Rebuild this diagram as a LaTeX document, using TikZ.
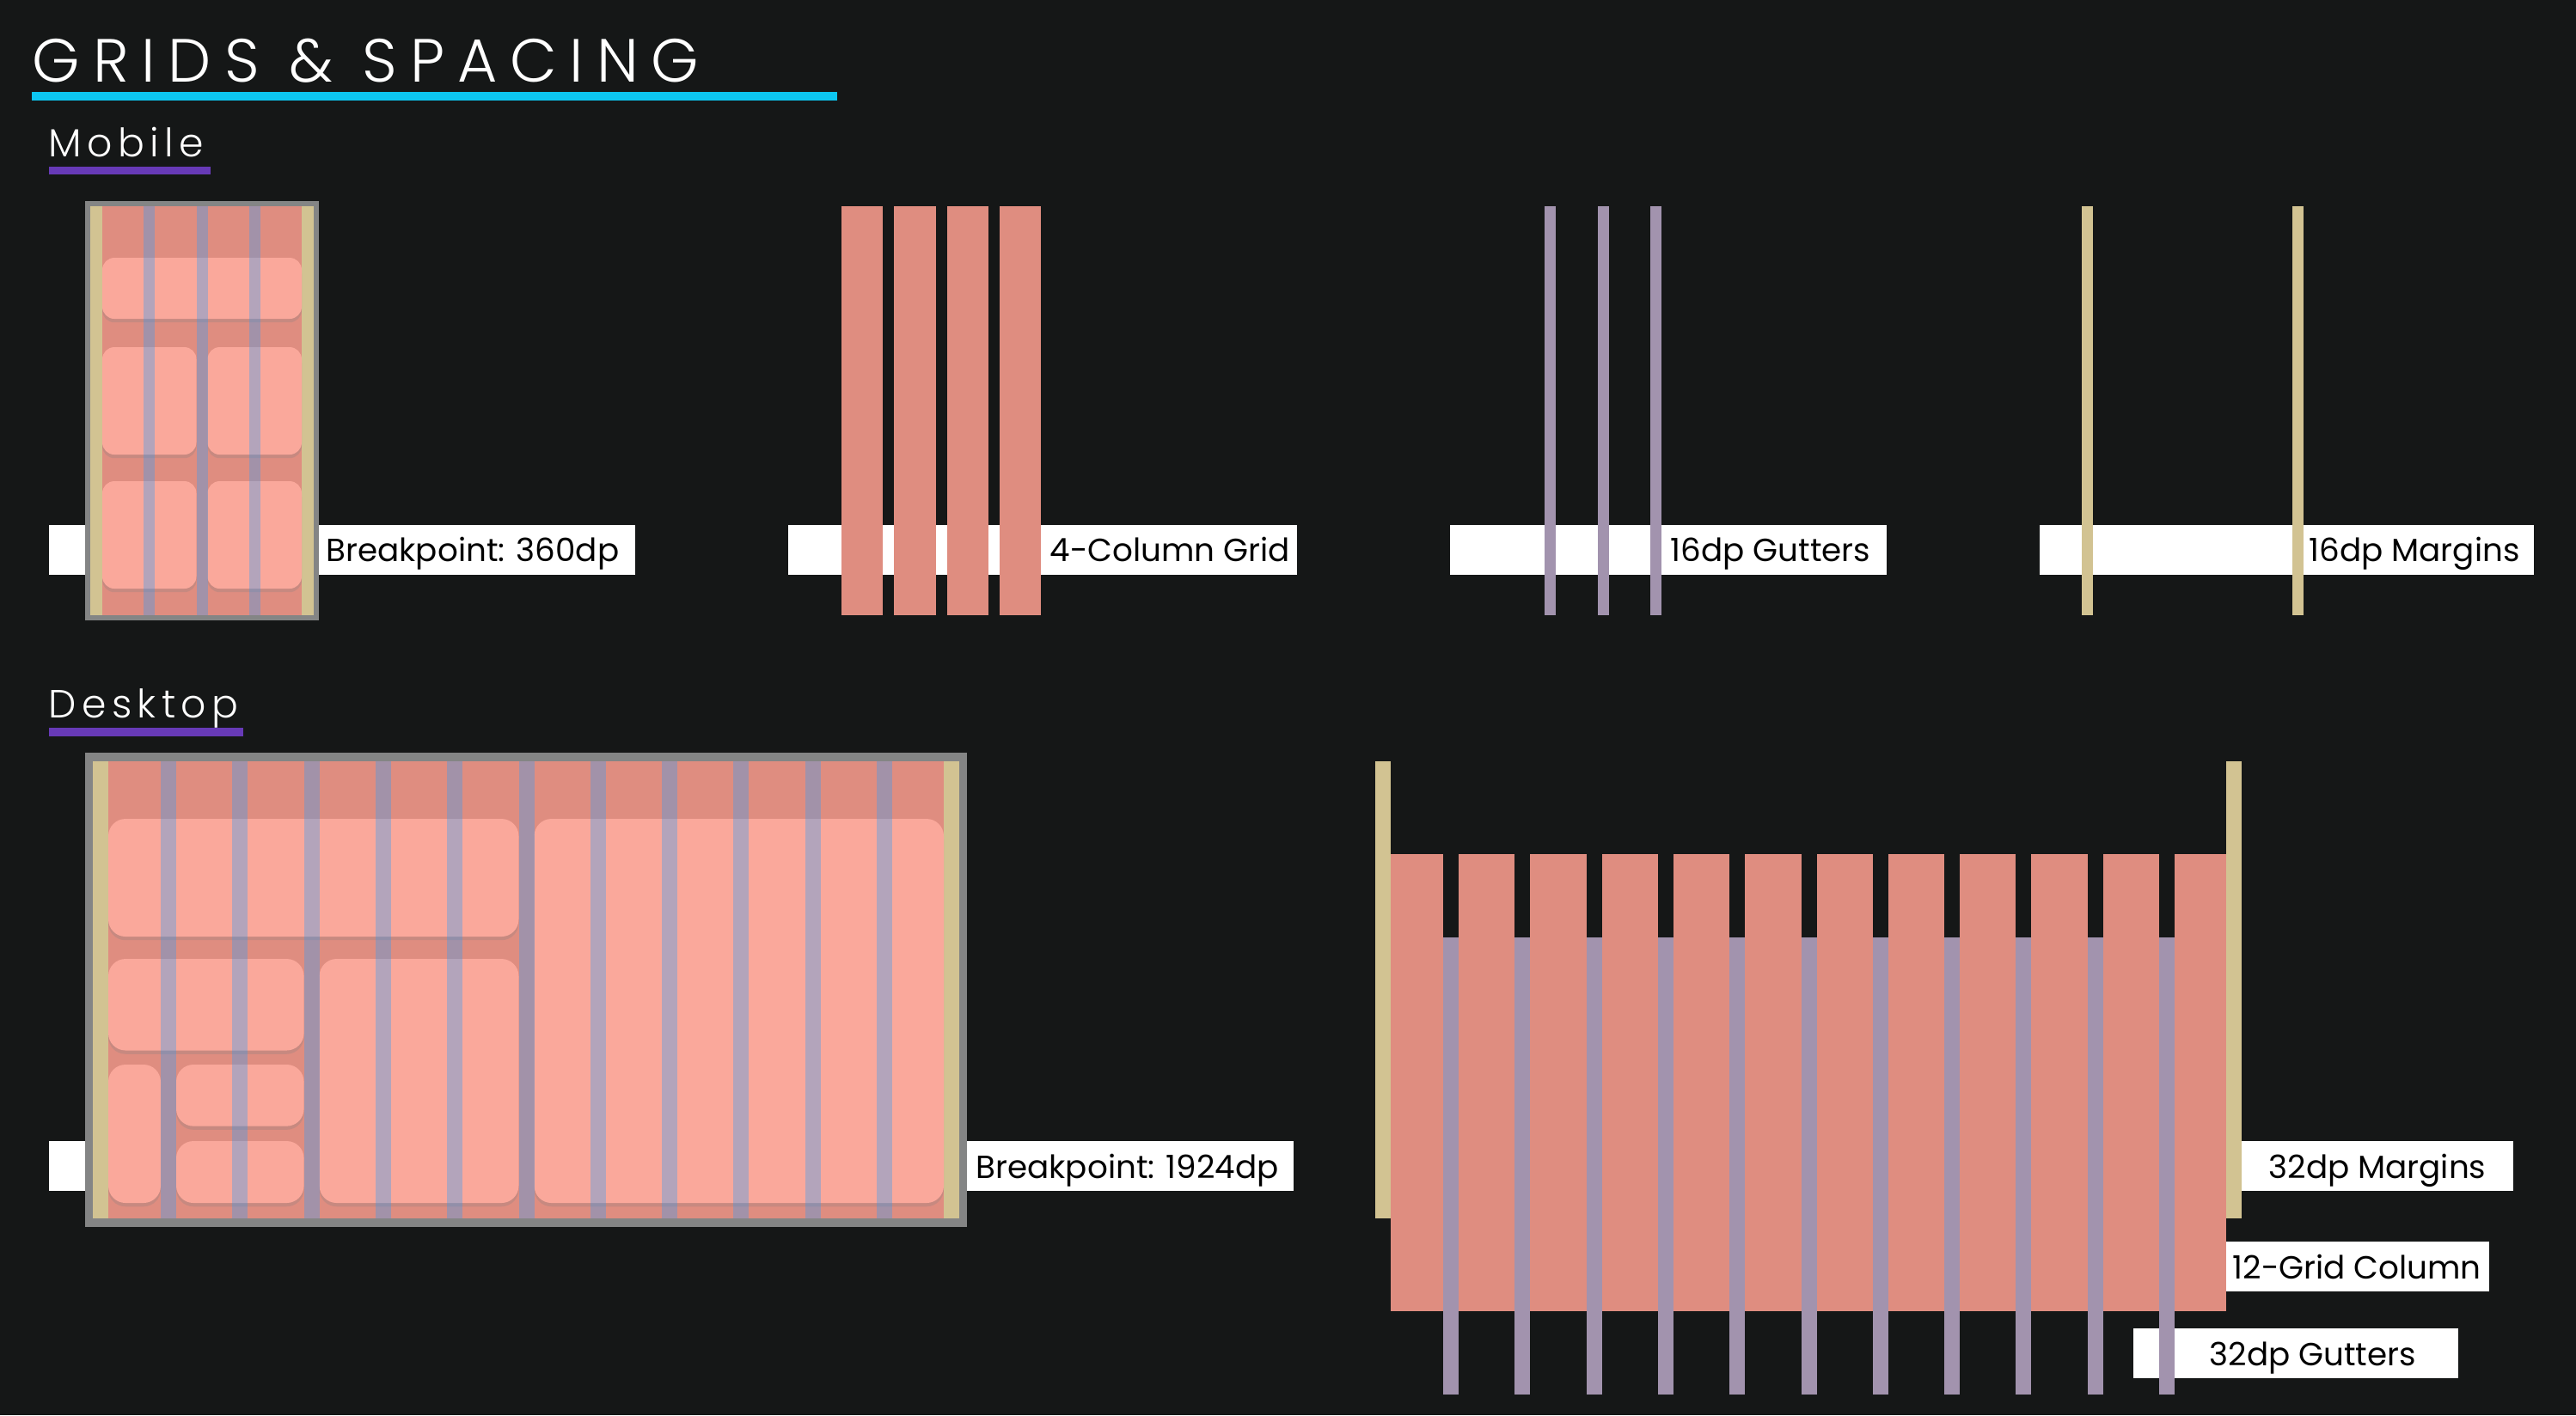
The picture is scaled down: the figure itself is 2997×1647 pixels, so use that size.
\documentclass[tikz,border=0pt]{standalone}
\usepackage{fontspec}
\setmainfont{Poppins}
\newfontfamily\titlefont[LetterSpace=21]{Poppins Light}
\newfontfamily\headfont[LetterSpace=14]{Poppins Light}
\usetikzlibrary{shadows}
\definecolor{bgdark}{HTML}{151717}
\definecolor{colred}{HTML}{DF8D80}
\definecolor{cardpink}{HTML}{FAA89B}
\definecolor{gutterlilac}{HTML}{A293AE}
\definecolor{gutterblue}{HTML}{319DF8}
\definecolor{marginsand}{HTML}{D2C392}
\definecolor{framegray}{HTML}{848585}
\definecolor{titlecyan}{HTML}{0CC6F1}
\definecolor{headpurple}{HTML}{673AB7}
\tikzset{
        gridcol/.style={fill=colred},
        gridgutter/.style={fill=gutterlilac},
        overgutter/.style={fill=gutterblue, fill opacity=0.35},
        gridmargin/.style={fill=marginsand},
        framebox/.style={fill=framegray},
        card/.style={fill=cardpink, rounded corners=#1, drop shadow={shadow xshift=0pt, shadow yshift=-1.2pt, opacity=0.25}},
        card/.default=4pt,
        tagbar/.style={fill=white},
        tagtext/.style={inner sep=0pt, anchor=base west, text=black, font=\fontsize{10.6}{13}\selectfont},
        heading/.style={inner sep=0pt, anchor=base west, text=white, font=\headfont\fontsize{13}{15}\selectfont},
        bigtitle/.style={inner sep=0pt, anchor=base west, text=white, font=\titlefont\fontsize{20.2}{24}\selectfont}
          }
\begin{document}
\begin{tikzpicture}[x=0.01cm, y=-0.01cm]
            \fill[bgdark] (0,0) rectangle (2997,1647);
            \node[bigtitle] (title) at (37,95) {GRIDS \& SPACING};
            \fill[titlecyan] (37,107) rectangle (974,117);
            \node[heading] (mobile) at (56,182) {Mobile};
            \fill[headpurple] (57,194) rectangle (245,203);
            \node[heading] (desktop) at (56,835) {Desktop};
            \fill[headpurple] (57,847) rectangle (283,857);
            % mobile
            \fill[tagbar] (57,611) rectangle (739,669);
            \fill[tagbar] (917,611) rectangle (1509,669);
            \fill[tagbar] (1687,611) rectangle (2195,669);
            \fill[tagbar] (2373,611) rectangle (2948,669);
            \fill[framebox] (99,234) rectangle (371,722);
            \fill[gridmargin] (105,240) rectangle (119,716);
            \fill[gridmargin] (351,240) rectangle (365,716);
            \fill[gridcol] (119,240) rectangle (351,716);
            \fill[card] (119,300) rectangle (351,371);
            \foreach \l/\r in {119/228.5, 241.5/351}{
              \fill[card] (\l,404) rectangle (\r,529);
              \fill[card] (\l,560) rectangle (\r,685);
            }
            \foreach \g in {167,228.5,290}
              \fill[overgutter] (\g,240) rectangle ++(13,476);
            \foreach \l/\r in {119/167, 180/228.5, 241.5/290, 303/351}
              \fill[gridcol] (\l+860,240) rectangle (\r+860,716);
            \foreach \g in {167,228.5,290}
              \fill[gridgutter] (\g+1630,240) rectangle ++(13,476);
            \fill[gridmargin] (2422,240) rectangle (2435,716);
            \fill[gridmargin] (2667,240) rectangle (2680,716);
            \node[tagtext] (bpmobile) at (379,653) {Breakpoint: 360dp};
            \node[tagtext] (colsmobile) at (1221,653) {4-Column Grid};
            \node[tagtext] (guttersmobile) at (1943,653) {16dp Gutters};
            \node[tagtext] (marginsmobile) at (2686,653) {16dp Margins};
            % desktop
            \fill[tagbar] (57,1328) rectangle (1505,1386);
            \fill[framebox] (99,876) rectangle (1125,1428);
            \fill[gridmargin] (108,886) rectangle (126,1418);
            \fill[gridmargin] (1098,886) rectangle (1116,1418);
            \fill[gridcol] (126,886) rectangle (1098,1418);
            \fill[card=5.7pt] (126,953) rectangle (603.5,1090);
            \fill[card=5.7pt] (621.5,953) rectangle (1098,1400);
            \fill[card=5.7pt] (126,1116) rectangle (353.6,1222.5);
            \fill[card=5.7pt] (371.6,1116) rectangle (603.5,1400);
            \fill[card=5.7pt] (126,1239) rectangle (187,1400);
            \fill[card=5.7pt] (205,1239) rectangle (353.6,1310.6);
            \fill[card=5.7pt] (205,1328) rectangle (353.6,1400);
            \foreach \i in {0,...,10}
              \fill[overgutter] (187+\i*83.3,886) rectangle ++(18,532);
            \node[tagtext] (bpdesktop) at (1135,1371) {Breakpoint: 1924dp};
            \fill[tagbar] (2608,1328) rectangle (2924,1386);
            \fill[tagbar] (2590,1445) rectangle (2896,1503);
            \fill[tagbar] (2482,1546) rectangle (2860,1604);
            \foreach \k in {0,...,11}{
              \pgfmathsetmacro\cl{\k==0 ? 1618 : 1613.7+\k*83.3}
              \pgfmathsetmacro\cr{\k==11 ? 2590 : 1679+\k*83.3}
              \fill[gridcol] (\cl,994) rectangle (\cr,1526);
            }
            \foreach \i in {0,...,10}
              \fill[gridgutter] (1679+\i*83.3,1091) rectangle ++(18,532);
            \fill[gridmargin] (1600,886) rectangle (1618,1418);
            \fill[gridmargin] (2590,886) rectangle (2608,1418);
            \node[tagtext] (marginsdesktop) at (2639,1371) {32dp Margins};
            \node[tagtext] (colsdesktop) at (2597,1488) {12-Grid Column};
            \node[tagtext] (guttersdesktop) at (2570,1589) {32dp Gutters};
          \end{tikzpicture}
\end{document}
